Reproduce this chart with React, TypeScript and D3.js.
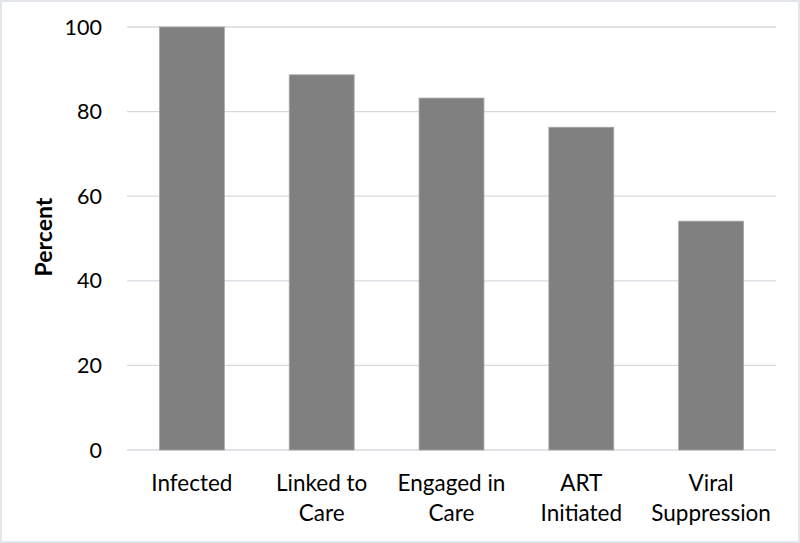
import * as d3 from "d3";
import React, { useEffect, useRef } from "react";

const categories = [
  ["Infected"],
  ["Linked to", "Care"],
  ["Engaged in", "Care"],
  ["ART", "Initiated"],
  ["Viral", "Suppression"],
];
const percents = [100, 88.7, 83.2, 76.3, 54.1];
const yTicks = [0, 20, 40, 60, 80, 100];

const App = () => {
  const svgRef = useRef<SVGSVGElement>(null);

  useEffect(() => {
    const width = 800;
    const height = 543;
    const margin = { top: 27, right: 24, bottom: 93, left: 127 };
    const innerW = width - margin.left - margin.right;
    const innerH = height - margin.top - margin.bottom;
    const font = "Lato, 'Open Sans', sans-serif";

    const root = d3.select(svgRef.current).attr("width", width).attr("height", height);
    root.selectAll("*").remove();

    root
      .append("rect")
      .attr("x", 1)
      .attr("y", 1)
      .attr("width", width - 2)
      .attr("height", height - 2)
      .attr("fill", "#fff")
      .attr("stroke", "#e3e6ea")
      .attr("stroke-width", 2);

    const svg = root.append("g").attr("transform", `translate(${margin.left},${margin.top})`);

    const keys = categories.map((c) => c.join(" "));
    const x = d3.scaleBand().domain(keys).range([0, innerW]).paddingInner(0.5).paddingOuter(0.25);
    const y = d3.scaleLinear().domain([0, 100]).range([innerH, 0]);

    // gridlines
    svg
      .selectAll("line.grid")
      .data(yTicks)
      .join("line")
      .attr("class", "grid")
      .attr("x1", 0)
      .attr("x2", innerW)
      .attr("y1", (d) => y(d))
      .attr("y2", (d) => y(d))
      .attr("stroke", "#d6dae0")
      .attr("stroke-width", 1.3);

    // tick labels
    svg
      .selectAll("text.ytick")
      .data(yTicks)
      .join("text")
      .attr("class", "ytick")
      .attr("x", -25)
      .attr("y", (d) => y(d))
      .attr("dy", "0.35em")
      .attr("text-anchor", "end")
      .attr("font-family", font)
      .attr("font-size", 21.5)
      .attr("fill", "#000")
      .text((d) => d);

    // bars
    svg
      .selectAll("rect.bar")
      .data(percents)
      .join("rect")
      .attr("class", "bar")
      .attr("x", (_, i) => x(keys[i])!)
      .attr("y", (d) => y(d))
      .attr("width", x.bandwidth())
      .attr("height", (d) => innerH - y(d))
      .attr("fill", "#808080")
      .attr("stroke", "#a6a6a6")
      .attr("stroke-width", 0.8);

    // category labels
    const labels = svg
      .selectAll("text.xlab")
      .data(categories)
      .join("text")
      .attr("class", "xlab")
      .attr("x", (_, i) => x(keys[i])! + x.bandwidth() / 2)
      .attr("y", innerH + 41)
      .attr("text-anchor", "middle")
      .attr("font-family", font)
      .attr("font-size", 22.5)
      .attr("fill", "#000");
    labels
      .selectAll("tspan")
      .data((d) => d)
      .join("tspan")
      .attr("x", function () {
        return (this.parentNode as SVGTextElement).getAttribute("x");
      })
      .attr("dy", (_, j) => (j === 0 ? 0 : 30))
      .text((d) => d);

    // axis title
    root
      .append("text")
      .attr("transform", `translate(52,237) rotate(-90)`)
      .attr("text-anchor", "middle")
      .attr("font-family", font)
      .attr("font-size", 23)
      .attr("font-weight", "bold")
      .attr("fill", "#000")
      .text("Percent");
  }, []);

  return (
    <div style={{ position: "absolute", left: 0, top: 0 }}>
      <svg ref={svgRef}></svg>
    </div>
  );
};

export default App;
